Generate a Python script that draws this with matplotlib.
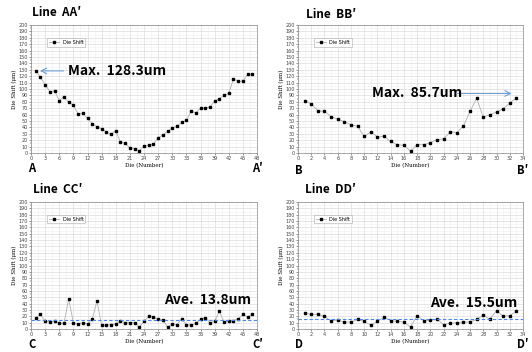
import numpy as np
import matplotlib
matplotlib.use('Agg')
import matplotlib.pyplot as plt
from matplotlib.ticker import MultipleLocator

# Die shift values (um)
dies_a = list(range(1, 48))
shift_a = [128.3, 118, 107, 96, 97, 82, 88, 79, 75, 61, 62, 54, 46, 41, 38, 33, 29, 35, 17, 15,
           8, 7, 3, 11, 12, 14, 24, 28, 34, 39, 42, 48, 51, 65, 63, 70, 70, 72, 81, 85,
           90, 93, 116, 112, 112, 123, 123]

dies_b = list(range(1, 34))
shift_b = [82, 77, 66, 65, 57, 53, 49, 44, 42, 26, 33, 25, 26, 18, 13, 12, 3, 13, 13, 16,
           21, 22, 33, 32, 42, 65, 85.5, 56, 60, 64, 69, 78, 85.7]

dies_c = list(range(1, 48))
shift_c = [18, 23, 12, 11, 13, 9, 9, 47, 10, 8, 10, 8, 15, 44, 6, 6, 7, 8, 13, 10,
           10, 10, 3, 12, 20, 19, 15, 14, 3, 8, 7, 16, 7, 6, 9, 15, 18, 10, 12, 28,
           11, 12, 13, 16, 23, 19, 23]

dies_d = list(range(1, 34))
shift_d = [25, 23, 23, 20, 13, 14, 11, 11, 15, 12, 6, 12, 19, 13, 12, 11, 3, 21, 13, 14,
           15, 7, 9, 10, 11, 11, 15, 22, 15, 29, 20, 21, 28]

ave_c = 13.8
ave_d = 15.5

W, H = 532, 352
fig = plt.figure(figsize=(W / 100, H / 100), dpi=100)
bold = dict(family=['Noto Sans CJK KR', 'DejaVu Sans'], fontweight='bold')
arrow_col = '#6f9fd8'


def px(x, y):
    return x / W, 1 - y / H


def make_ax(left, top, right, bottom, xmax, xstep):
    l, t = px(left, top)
    r, b = px(right, bottom)
    ax = fig.add_axes([l, b, r - l, t - b])
    ax.set_xlim(0, xmax)
    ax.set_ylim(0, 200)
    ax.xaxis.set_major_locator(MultipleLocator(xstep))
    ax.xaxis.set_minor_locator(MultipleLocator(xstep / 2))
    ax.yaxis.set_major_locator(MultipleLocator(10))
    ax.yaxis.set_minor_locator(MultipleLocator(5))
    ax.grid(which='major', color='#dcdcdc', lw=0.5)
    ax.grid(which='minor', color='#efefef', lw=0.4)
    ax.set_axisbelow(True)
    ax.tick_params(labelsize=3.5, length=1.5, width=0.4, pad=1, colors='#444444')
    ax.tick_params(which='minor', length=1, width=0.3)
    for s in ax.spines.values():
        s.set_color('#888888')
        s.set_linewidth(0.5)
    ax.set_xlabel('Die (Number)', fontsize=4, family='serif', labelpad=1)
    ax.set_ylabel('Die Shift (\u03bcm)', fontsize=4, family='serif', labelpad=1)
    return ax


def plot_series(ax, x, y):
    ax.plot(x, y, color='#b0b0b0', lw=0.6, marker='s', ms=1.9,
            mfc='black', mec='black', label='Die Shift')
    leg = ax.legend(loc='upper left', bbox_to_anchor=(0.06, 0.92), fontsize=3.5,
                    frameon=True, fancybox=False, handlelength=2, borderpad=0.4,
                    markerscale=0.9)
    leg.get_frame().set_edgecolor('#999999')
    leg.get_frame().set_linewidth(0.4)


ax_a = make_ax(31, 25, 257, 153, 48, 3)
plot_series(ax_a, dies_a, shift_a)
ax_a.annotate('', xy=(dies_a[0] + 0.3, shift_a[0]), xytext=(7.5, shift_a[0]),
              arrowprops=dict(arrowstyle='->', color=arrow_col, lw=0.8))
ax_a.text(7.8, shift_a[0], 'Max.  128.3um', fontsize=10, va='center', ha='left', **bold)

ax_b = make_ax(298, 25, 523, 153, 34, 2)
plot_series(ax_b, dies_b, shift_b)
ax_b.annotate('', xy=(dies_b[-1] - 0.3, 93), xytext=(23.7, 93),
              arrowprops=dict(arrowstyle='->', color=arrow_col, lw=0.8))
ax_b.text(11.2, 93, 'Max.  85.7um', fontsize=10, va='center', ha='left', **bold)

ax_c = make_ax(31, 202, 257, 329, 48, 3)
plot_series(ax_c, dies_c, shift_c)
ax_c.axhline(ave_c, color='#4a86e8', lw=0.8, ls='--', dashes=(3, 2))
ax_c.text(46.7, 46, 'Ave.  13.8um', fontsize=10, va='center', ha='right', **bold)

ax_d = make_ax(298, 202, 523, 329, 34, 2)
plot_series(ax_d, dies_d, shift_d)
ax_d.axhline(ave_d, color='#4a86e8', lw=0.8, ls='--', dashes=(3, 2))
ax_d.text(33.2, 41, 'Ave.  15.5um', fontsize=10, va='center', ha='right', **bold)

# panel titles and end labels
titles = [('Line  AA\u2032', 32, 13), ('Line  BB\u2032', 306, 15),
          ('Line  CC\u2032', 33, 189), ('Line  DD\u2032', 305, 189)]
for t, x, y in titles:
    fig.text(*px(x, y), t, fontsize=8.5, va='center', ha='left', **bold)

ends = [('A', 28, 169), ('A\u2032', 252, 169), ('B', 295, 170), ('B\u2032', 517, 170),
        ('C', 28, 344), ('C\u2032', 252, 344), ('D', 295, 344), ('D\u2032', 517, 344)]
for t, x, y in ends:
    fig.text(*px(x, y), t, fontsize=8, va='center', ha='left', **bold)

fig.savefig('out.png', dpi=100)
